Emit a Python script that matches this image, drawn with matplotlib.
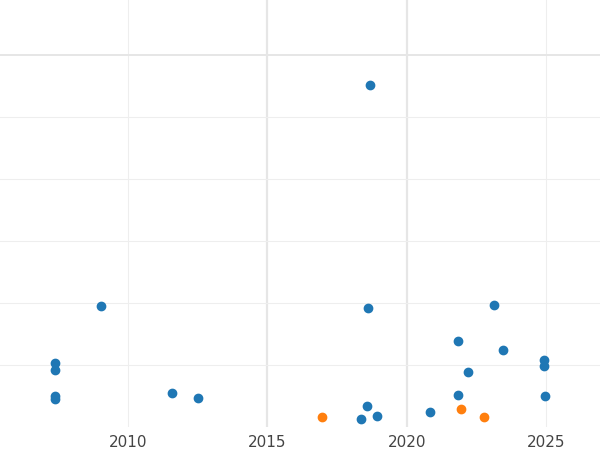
import matplotlib
matplotlib.use("Agg")
import matplotlib.pyplot as plt

blue_x = [2007.38, 2007.38, 2007.38, 2007.38, 2009.03, 2011.57, 2012.51, 2018.60, 2018.67,
          2018.56, 2018.35, 2018.92, 2020.82, 2021.83, 2021.83, 2022.18, 2023.12, 2023.44,
          2024.91, 2024.91, 2024.94]
blue_y = [1.03, 0.92, 0.50, 0.45, 1.95, 0.55, 0.47, 1.92, 5.52,
          0.34, 0.13, 0.18, 0.24, 1.39, 0.52, 0.89, 1.97, 1.24,
          1.08, 0.98, 0.50]
orange_x = [2016.95, 2021.93, 2022.76]
orange_y = [0.16, 0.29, 0.16]

fig = plt.figure(figsize=(6, 4.5), dpi=100)
ax = fig.add_axes([0, 0.051, 1, 0.949])
ax.set_xlim(2005.41, 2026.93)
ax.set_ylim(0, 6.89)

for x in [2010, 2025]:
    ax.axvline(x, color="#eeeeee", lw=0.8, zorder=0)
for x in [2015, 2020]:
    ax.axvline(x, color="#e6e6e6", lw=1.6, zorder=0)
for y in [1, 2, 3, 4, 5]:
    ax.axhline(y, color="#eeeeee", lw=0.8, zorder=0)
ax.axhline(6, color="#e6e6e6", lw=1.4, zorder=0)

ax.scatter(blue_x, blue_y, s=36, color="#1f77b4", zorder=3)
ax.scatter(orange_x, orange_y, s=36, color="#ff7f0e", zorder=3)

ax.set_xticks([2010, 2015, 2020, 2025])
ax.set_yticks([])
ax.tick_params(axis="x", length=0, labelsize=11, labelcolor="#444444", pad=6)
for s in ax.spines.values():
    s.set_visible(False)

fig.savefig("out.png", dpi=100)
